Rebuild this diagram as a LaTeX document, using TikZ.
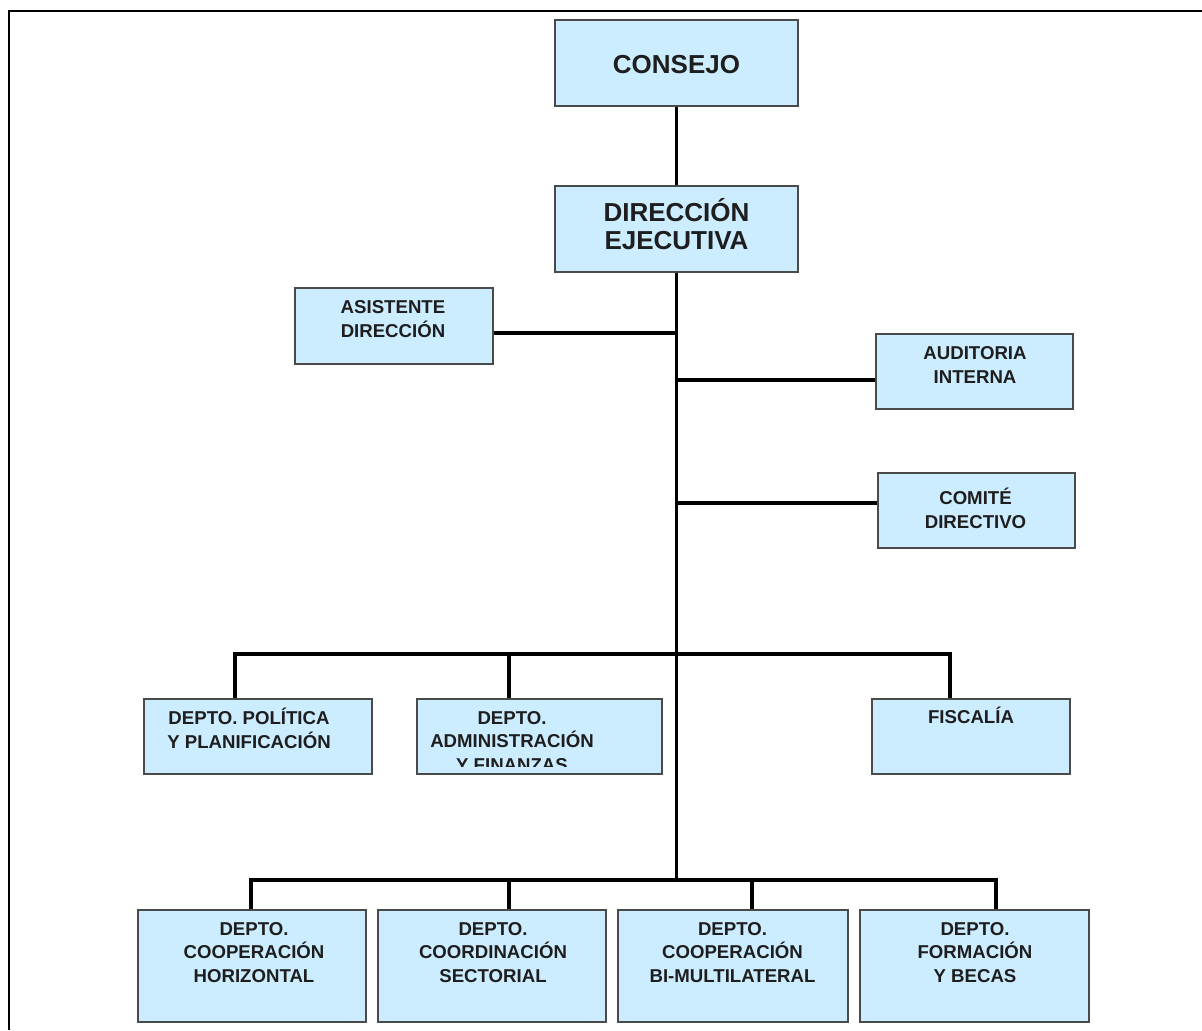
\documentclass[tikz,border=0pt]{standalone}
\usepackage{fontspec}
\setmainfont{Liberation Sans}
\definecolor{boxfill}{HTML}{CCECFF}
\definecolor{boxline}{HTML}{4A4A4A}
\definecolor{txt}{HTML}{1E1E1E}
\tikzset{
  unit/.style={draw=boxline, line width=1.3pt, fill=boxfill, inner sep=0pt},
  lbl/.style={align=center, anchor=base, text=txt, inner sep=0pt,
    font=\bfseries\fontsize{10.6}{13.2}\selectfont},
  big/.style={lbl, font=\bfseries\fontsize{14.8}{16.5}\selectfont},
  link/.style={line width=2.2pt, black}
}

\begin{document}
\begin{tikzpicture}[x=0.02cm,y=-0.02cm]
\useasboundingbox (0,0) rectangle (1202,1030);
\draw[line width=0.8pt] (9,1030) -- (9,11) -- (1202,11);

% boxes
\node[unit, minimum width=4.86cm, minimum height=1.72cm] (cons) at (676.5,63) {};
\node[unit, minimum width=4.86cm, minimum height=1.72cm] (dir) at (676.5,229) {};
\node[unit, minimum width=3.96cm, minimum height=1.52cm] (asis) at (394,326) {};
\node[unit, minimum width=3.94cm, minimum height=1.5cm] (aud) at (974.5,371.5) {};
\node[unit, minimum width=3.94cm, minimum height=1.5cm] (com) at (976.5,510.5) {};
\node[unit, minimum width=4.56cm, minimum height=1.5cm] (pol) at (258,736.5) {};
\node[unit, minimum width=4.9cm, minimum height=1.5cm] (adm) at (539.5,736.5) {};
\node[unit, minimum width=3.96cm, minimum height=1.5cm] (fis) at (971,736.5) {};
\node[unit, minimum width=4.56cm, minimum height=2.24cm] (coh) at (252,966) {};
\node[unit, minimum width=4.56cm, minimum height=2.24cm] (cos) at (492,966) {};
\node[unit, minimum width=4.6cm, minimum height=2.24cm] (cbm) at (733,966) {};
\node[unit, minimum width=4.58cm, minimum height=2.24cm] (fyb) at (974.5,966) {};

% texts (base = last line)
\node[big] (t-cons) at (676.5,74) {CONSEJO};
\node[big] (t-dir) at (676.5,250) {DIRECCIÓN\\EJECUTIVA};
\node[lbl] (t-asis) at (393,337) {ASISTENTE\\DIRECCIÓN};
\node[lbl] (t-aud) at (975,383) {AUDITORIA\\INTERNA};
\node[lbl] (t-com) at (975.5,528) {COMITÉ\\DIRECTIVO};
\node[lbl] (t-pol) at (249,748) {DEPTO. POLÍTICA\\Y PLANIFICACIÓN};
\begin{scope}
\clip (417,699) rectangle (662,766);
\node[lbl] (t-adm) at (512,771) {DEPTO.\\ADMINISTRACIÓN\\Y FINANZAS};
\end{scope}
\node[lbl] (t-fis) at (971,723) {FISCALÍA};
\node[lbl] (t-coh) at (254,982) {DEPTO.\\COOPERACIÓN\\HORIZONTAL};
\node[lbl] (t-cos) at (493,982) {DEPTO.\\COORDINACIÓN\\SECTORIAL};
\node[lbl] (t-cbm) at (732.5,982) {DEPTO.\\COOPERACIÓN\\BI-MULTILATERAL};
\node[lbl] (t-fyb) at (975,982) {DEPTO.\\FORMACIÓN\\Y BECAS};

% lines
\coordinate (trunk) at (dir.south);
\coordinate (bus2) at (677,880);
\coordinate (asis-c) at ([yshift=-0.14cm]asis.east);
\coordinate (aud-c) at ([yshift=-0.17cm]aud.west);
\coordinate (com-c) at ([yshift=0.15cm]com.west);
\coordinate (a1) at (235,654);
\coordinate (a2) at (509,654);
\coordinate (a3) at (950,654);
\coordinate (b1) at (251,880);
\coordinate (b2) at (509,880);
\coordinate (b3) at (752,880);
\coordinate (b4) at (996,880);
\draw[link] (cons.south) -- (dir.north);
\draw[link] (trunk) -- (trunk |- bus2);
\draw[link] (asis-c) -- (asis-c -| trunk);
\draw[link] (aud-c -| trunk) -- (aud-c);
\draw[link] (com-c -| trunk) -- (com-c);
\draw[link] (a1 |- pol.north) -- (a1) -- (a3) -- (a3 |- fis.north);
\draw[link] (a2) -- (a2 |- adm.north);
\draw[link] (b1 |- coh.north) -- (b1) -- (b4) -- (b4 |- fyb.north);
\draw[link] (b2) -- (b2 |- cos.north);
\draw[link] (b3) -- (b3 |- cbm.north);
\end{tikzpicture}
\end{document}
